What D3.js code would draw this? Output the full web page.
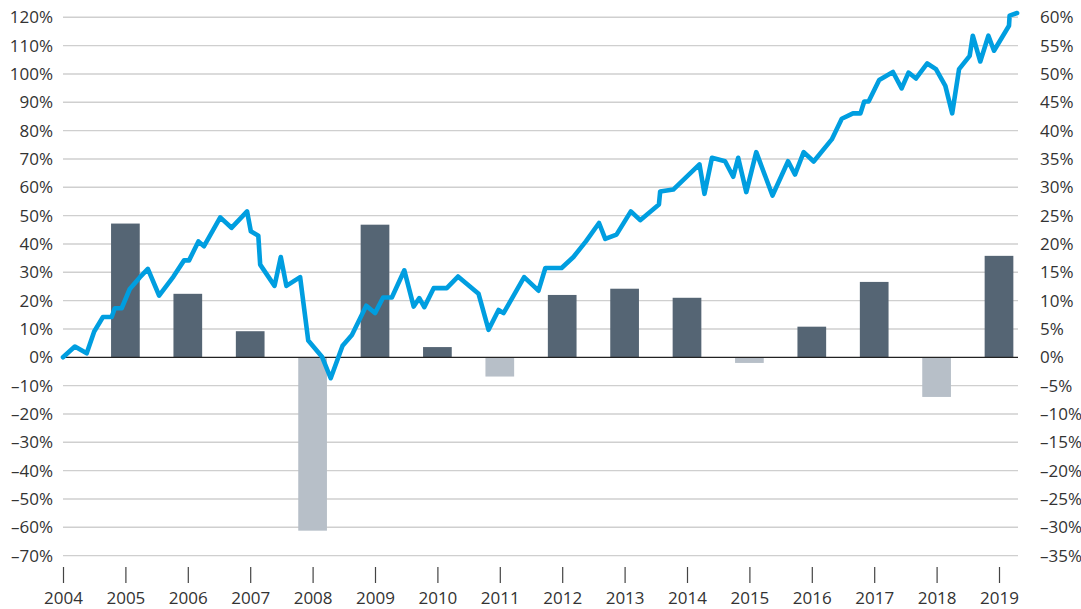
<!DOCTYPE html>
<html>
<head>
<meta charset="utf-8">
<script src="https://cdn.jsdelivr.net/npm/d3@7"></script>
<style>
  html, body { margin: 0; padding: 0; background: #fff; }
  svg { display: block; }
  text { font-family: "Open Sans", "Noto Sans", sans-serif; fill: #333; }
</style>
</head>
<body>
<svg id="chart" width="1081" height="609"></svg>
<script>
// ---- DATA ----
const yearLabels = [2004,2005,2006,2007,2008,2009,2010,2011,2012,2013,2014,2015,2016,2017,2018,2019];
const leftTicks = [-70,-60,-50,-40,-30,-20,-10,0,10,20,30,40,50,60,70,80,90,100,110,120];
const rightTicks = [-35,-30,-25,-20,-15,-10,-5,0,5,10,15,20,25,30,35,40,45,50,55,60];

// annual returns (right axis, %)
const barYears  = [2005,2006,2007,2008,2009,2010,2011,2012,2013,2014,2015,2016,2017,2018,2019];
const barValues = [23.6,11.2,4.6,-30.6,23.4,1.8,-3.4,11.0,12.1,10.5,-1.0,5.4,13.3,-7.0,17.9];

// cumulative performance (left axis, %)
const lineTimes = [
  2004.00,2004.19,2004.38,2004.50,2004.64,2004.78,2004.83,2004.94,2005.07,2005.23,
  2005.36,2005.54,2005.77,2005.94,2006.02,2006.17,2006.26,2006.52,2006.70,2006.95,
  2007.01,2007.13,2007.16,2007.39,2007.49,2007.58,2007.80,2007.93,2008.15,2008.29,
  2008.48,2008.63,2008.86,2009.00,2009.13,2009.27,2009.47,2009.62,2009.71,2009.79,
  2009.94,2010.15,2010.33,2010.66,2010.82,2010.98,2011.06,2011.39,2011.62,2011.73,
  2011.99,2012.18,2012.38,2012.59,2012.69,2012.87,2013.10,2013.25,2013.55,2013.57,
  2013.78,2014.20,2014.28,2014.40,2014.61,2014.74,2014.82,2014.95,2015.11,2015.37,
  2015.62,2015.73,2015.87,2016.03,2016.32,2016.48,2016.66,2016.78,2016.84,2016.91,
  2017.08,2017.30,2017.44,2017.55,2017.67,2017.85,2017.99,2018.14,2018.25,2018.36,
  2018.53,2018.58,2018.70,2018.83,2018.92,2019.16,2019.17,2019.29
];
const lineValues = [
  0.0,3.8,1.4,9.1,14.2,14.2,17.3,17.3,24.1,28.2,
  31.2,21.8,28.5,34.2,34.2,40.9,39.2,49.4,45.7,51.5,
  44.5,42.9,32.7,25.2,35.4,25.2,28.3,5.9,0.2,-7.4,
  4.1,7.9,18.2,15.6,21.1,21.1,30.7,17.9,20.9,17.7,
  24.4,24.4,28.5,22.4,9.7,16.7,15.6,28.3,23.5,31.5,
  31.5,35.4,40.9,47.4,41.8,43.3,51.5,48.4,53.9,58.5,
  59.2,68.1,57.7,70.4,69.2,63.7,70.4,58.3,72.4,57.1,
  69.2,64.5,72.4,69.1,76.9,84.2,86.1,86.1,90.3,90.3,
  97.9,100.7,94.9,100.5,98.4,103.7,101.7,95.8,86.1,101.7,
  106.4,113.5,104.4,113.5,108.2,117.0,120.6,121.5
];

// ---- CHART ----
const svg = d3.select("#chart");
const plotLeft = 63, plotRight = 1018, plotTop = 17.3, plotBottom = 555.6;

const x = d3.scaleLinear().domain([2004, 2019]).range([63, 999]);
const yL = d3.scaleLinear().domain([-70, 120]).range([plotBottom, plotTop]);
const yR = d3.scaleLinear().domain([-35, 60]).range([plotBottom, plotTop]);

const fmt = d => (d < 0 ? "\u2013" : "") + Math.abs(d) + "%";

// gridlines
svg.append("g").selectAll("line")
  .data(leftTicks.filter(d => d !== 0))
  .join("line")
  .attr("x1", plotLeft).attr("x2", plotRight)
  .attr("y1", d => yL(d)).attr("y2", d => yL(d))
  .attr("stroke", "#cfcfcf").attr("stroke-width", 1.4);

// bars
const bw = 28.7;
svg.append("g").selectAll("rect")
  .data(barYears.map((yr, i) => ({yr, v: barValues[i]})))
  .join("rect")
  .attr("x", d => x(d.yr) - bw / 2)
  .attr("width", bw)
  .attr("y", d => d.v >= 0 ? yR(d.v) : yR(0))
  .attr("height", d => Math.abs(yR(d.v) - yR(0)))
  .attr("fill", d => d.v >= 0 ? "#556574" : "#b7bfc8");

// zero line
svg.append("line")
  .attr("x1", plotLeft).attr("x2", plotRight)
  .attr("y1", yL(0)).attr("y2", yL(0))
  .attr("stroke", "#222").attr("stroke-width", 1.2);

// line
const line = d3.line()
  .x((d, i) => x(lineTimes[i]))
  .y(d => yL(d));
svg.append("path")
  .datum(lineValues)
  .attr("d", line)
  .attr("fill", "none")
  .attr("stroke", "#009ee0")
  .attr("stroke-width", 4.6)
  .attr("stroke-linejoin", "round")
  .attr("stroke-linecap", "round");

// left axis
const axL = svg.append("g").attr("transform", `translate(${plotLeft},0)`)
  .call(d3.axisLeft(yL).tickValues(leftTicks).tickSize(0).tickPadding(10).tickFormat(fmt));
axL.select(".domain").remove();
axL.selectAll("text").style("font-size", "17px").attr("fill", "#333");

// right axis
const axR = svg.append("g").attr("transform", `translate(${plotRight},0)`)
  .call(d3.axisRight(yR).tickValues(rightTicks).tickSize(0).tickPadding(22).tickFormat(fmt));
axR.select(".domain").remove();
axR.selectAll("text").style("font-size", "17px").attr("fill", "#333");

// bottom axis
const axB = svg.append("g").attr("transform", "translate(0,567)")
  .call(d3.axisBottom(x).tickValues(yearLabels).tickSize(16).tickPadding(9).tickFormat(d3.format("d")));
axB.select(".domain").remove();
axB.selectAll("line").attr("stroke", "#444").attr("stroke-width", 1.2);
axB.selectAll("text").style("font-size", "17px").attr("fill", "#333");
</script>
</body>
</html>
